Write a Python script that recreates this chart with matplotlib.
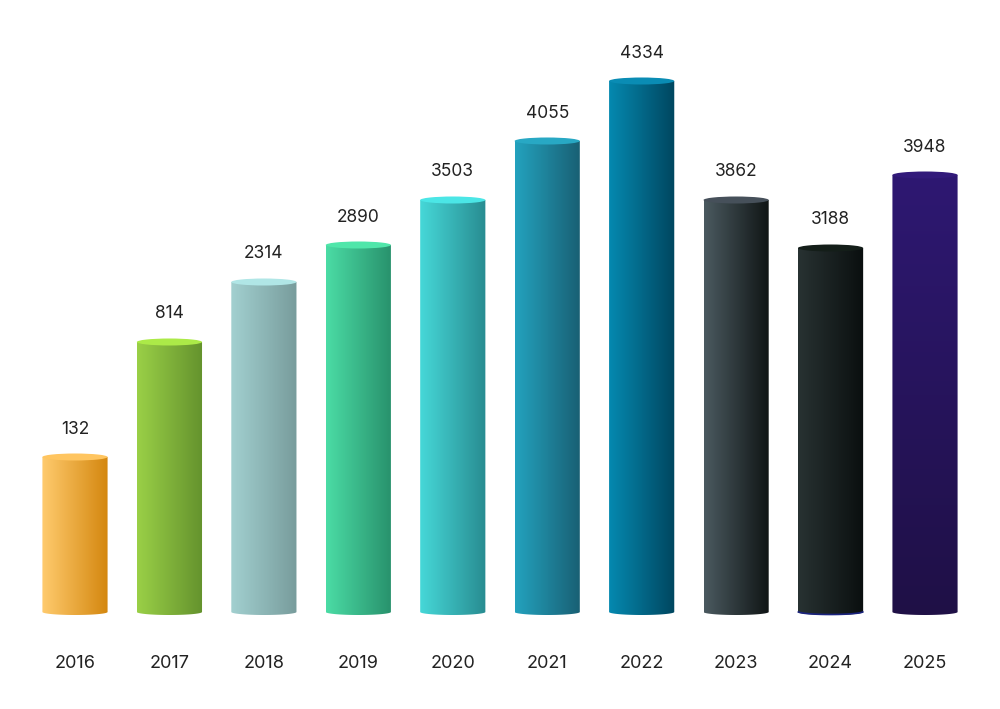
import matplotlib

matplotlib.use("Agg")
import matplotlib.pyplot as plt
import numpy as np
from matplotlib.colors import LinearSegmentedColormap
from matplotlib.patches import Ellipse, PathPatch
from matplotlib.path import Path


years = ["2016", "2017", "2018", "2019", "2020", "2021", "2022", "2023", "2024", "2025"]
value_labels = [132, 814, 2314, 2890, 3503, 4055, 4334, 3862, 3188, 3948]
# drawn heights as they appear in the picture (not proportional to labels)
bar_heights = [155, 270, 330, 367, 412, 471, 531, 412, 364, 437]

# (light side, dark side, top cap)
bar_colors = [
    ("#ffcb6e", "#d4870f", "#ffc560"),
    ("#9ad047", "#64922d", "#acea48"),
    ("#a2d0d0", "#789c9c", "#b0e6e6"),
    ("#4bdca5", "#28916c", "#50e6aa"),
    ("#46d8d8", "#288c91", "#4be6e6"),
    ("#23a2be", "#195f73", "#28a8c4"),
    ("#0589b0", "#00465f", "#0a8cb4"),
    ("#4b5a60", "#0f1414", "#46505a"),
    ("#283232", "#0a0f0f", "#141e19"),
    ("#2e1872", "#1f1046", "#321a7a"),
]
vertical_gradient = [False] * 9 + [True]

BAR_WIDTH = 0.69
BOTTOM_DEPTH = 3.0
TOP_DEPTH = 3.5


def body_path(xc, h):
    x0 = xc - BAR_WIDTH / 2
    x1 = xc + BAR_WIDTH / 2
    t = np.linspace(np.pi, 2 * np.pi, 40)
    arc = np.column_stack([xc + BAR_WIDTH / 2 * np.cos(t), BOTTOM_DEPTH * np.sin(t)])
    verts = np.vstack([[x0, h], arc, [x1, h], [x0, h]])
    codes = [Path.MOVETO] + [Path.LINETO] * (len(verts) - 2) + [Path.CLOSEPOLY]
    return Path(verts, codes)


def draw_cylinder(ax, xc, h, colors, vertical):
    light, dark, cap = colors
    cmap = LinearSegmentedColormap.from_list("cyl", [light, dark])
    grad = np.linspace(0, 1, 256)
    if vertical:
        img = grad.reshape(-1, 1)
        origin = "upper"
    else:
        img = grad.reshape(1, -1)
        origin = "lower"

    patch = PathPatch(body_path(xc, h), facecolor="none", edgecolor="none")
    ax.add_patch(patch)
    im = ax.imshow(
        img,
        cmap=cmap,
        extent=(xc - BAR_WIDTH / 2, xc + BAR_WIDTH / 2, -BOTTOM_DEPTH - 1, h),
        origin=origin,
        aspect="auto",
        interpolation="bicubic",
        zorder=2,
    )
    im.set_clip_path(patch)

    ax.add_patch(
        Ellipse((xc, h), BAR_WIDTH, 2 * TOP_DEPTH, facecolor=cap, edgecolor="none", zorder=3)
    )


fig = plt.figure(figsize=(10, 7.09), dpi=100)
ax = fig.add_axes([0, 0, 1, 1])
x = np.arange(len(years))

for i, h in enumerate(bar_heights):
    draw_cylinder(ax, x[i], h, bar_colors[i], vertical_gradient[i])
    ax.text(
        x[i],
        h + 28,
        str(value_labels[i]),
        ha="center",
        va="center",
        fontsize=12.5,
        color="#222222",
        family=["Inter", "DejaVu Sans"],
    )
    ax.text(
        x[i],
        -51,
        years[i],
        ha="center",
        va="center",
        fontsize=13,
        color="#222222",
        family=["Inter", "DejaVu Sans"],
    )

# thin blue rim under the 2024 bar
t = np.linspace(np.pi * 1.05, np.pi * 1.95, 30)
ax.plot(
    x[8] + BAR_WIDTH / 2 * np.cos(t),
    BOTTOM_DEPTH * np.sin(t) + 0.5,
    color="#1a237e",
    linewidth=1.2,
    zorder=4,
)

ax.set_xlim(-0.794, 9.794)
ax.set_ylim(-97, 612)
ax.axis("off")

fig.savefig("out.png", dpi=100)
